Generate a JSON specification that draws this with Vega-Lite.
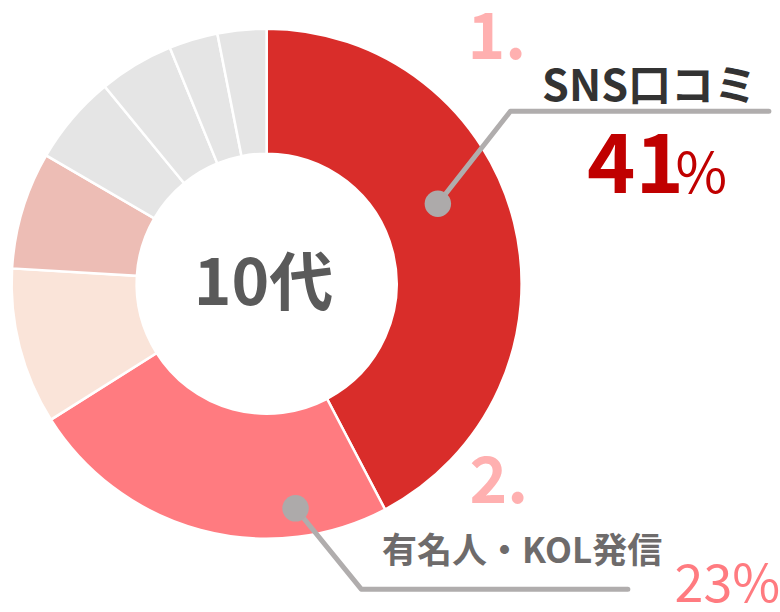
{
  "$schema": "https://vega.github.io/schema/vega-lite/v6.json",
  "width": 780,
  "height": 612,
  "autosize": {"type": "fit", "contains": "padding"},
  "padding": 0,
  "background": "white",
  "config": {"view": {"stroke": null}, "font": "Noto Sans CJK JP"},
  "datasets": {
    "shares": [
      {"item": "SNS口コミ", "value": 41, "rank": 1},
      {"item": "有名人・KOL発信", "value": 23, "rank": 2},
      {"item": "その他A", "value": 9.6, "rank": 3},
      {"item": "その他B", "value": 7.2, "rank": 4},
      {"item": "その他C", "value": 5.5, "rank": 5},
      {"item": "その他D", "value": 4.6, "rank": 6},
      {"item": "その他E", "value": 3.0, "rank": 7},
      {"item": "その他F", "value": 3.0, "rank": 8}
    ],
    "leaders": [
      {"g": 1, "s": 1, "x": 0.675, "y": 0.318},
      {"g": 1, "s": 2, "x": 0.961, "y": 0.686},
      {"g": 1, "s": 3, "x": 1.98, "y": 0.686},
      {"g": 2, "s": 1, "x": 0.114, "y": -0.894},
      {"g": 2, "s": 2, "x": 0.373, "y": -1.216},
      {"g": 2, "s": 3, "x": 1.424, "y": -1.216}
    ]
  },
  "layer": [
    {
      "data": {"name": "shares"},
      "mark": {"type": "arc", "innerRadius": 130, "outerRadius": 255, "stroke": "white", "strokeWidth": 2.5},
      "encoding": {
        "x": {"datum": 0, "type": "quantitative", "scale": {"domain": [-1.051, 2.008], "nice": false, "zero": false}, "axis": null},
        "y": {"datum": 0, "type": "quantitative", "scale": {"domain": [-1.271, 1.129], "nice": false, "zero": false}, "axis": null},
        "theta": {"field": "value", "type": "quantitative", "stack": true},
        "order": {"field": "rank", "type": "quantitative"},
        "color": {
          "field": "item",
          "type": "nominal",
          "scale": {
            "domain": ["SNS口コミ", "有名人・KOL発信", "その他A", "その他B", "その他C", "その他D", "その他E", "その他F"],
            "range": ["#D92D2A", "#FF7B80", "#FAE4D9", "#EDBDB5", "#E5E5E5", "#E5E5E5", "#E5E5E5", "#E5E5E5"]
          },
          "legend": null
        }
      }
    },
    {
      "data": {"name": "leaders"},
      "mark": {"type": "line", "color": "#B0ADAD", "strokeWidth": 5, "strokeCap": "round", "strokeJoin": "round"},
      "encoding": {
        "x": {"field": "x", "type": "quantitative"},
        "y": {"field": "y", "type": "quantitative"},
        "detail": {"field": "g"},
        "order": {"field": "s", "type": "quantitative"}
      }
    },
    {
      "data": {"name": "leaders"},
      "transform": [{"filter": "datum.s == 1"}],
      "mark": {"type": "point", "filled": true, "shape": "circle", "size": 700, "color": "#ADAAAA", "opacity": 1},
      "encoding": {
        "x": {"field": "x", "type": "quantitative"},
        "y": {"field": "y", "type": "quantitative"}
      }
    },
    {
      "data": {"values": [{"t": "1.", "x": 0.792, "y": 0.894}, {"t": "2.", "x": 0.8, "y": -0.871}]},
      "mark": {"type": "text", "align": "left", "baseline": "alphabetic", "fontSize": 64, "fontWeight": "bold", "color": "#FFB0B0"},
      "encoding": {
        "x": {"field": "x", "type": "quantitative"},
        "y": {"field": "y", "type": "quantitative"},
        "text": {"field": "t"}
      }
    },
    {
      "data": {"values": [{"t": "SNS口コミ", "x": 1.086, "y": 0.729}]},
      "mark": {"type": "text", "align": "left", "baseline": "alphabetic", "fontSize": 43, "fontWeight": "bold", "color": "#333333"},
      "encoding": {
        "x": {"field": "x", "type": "quantitative"},
        "y": {"field": "y", "type": "quantitative"},
        "text": {"field": "t"}
      }
    },
    {
      "data": {"values": [{"t": "41", "x": 1.263, "y": 0.36}]},
      "mark": {"type": "text", "align": "left", "baseline": "alphabetic", "fontSize": 82, "fontWeight": "bold", "color": "#C00000"},
      "encoding": {
        "x": {"field": "x", "type": "quantitative"},
        "y": {"field": "y", "type": "quantitative"},
        "text": {"field": "t"}
      }
    },
    {
      "data": {"values": [{"t": "%", "x": 1.612, "y": 0.36}]},
      "mark": {"type": "text", "align": "left", "baseline": "alphabetic", "fontSize": 56, "fontWeight": "normal", "color": "#C00000"},
      "encoding": {
        "x": {"field": "x", "type": "quantitative"},
        "y": {"field": "y", "type": "quantitative"},
        "text": {"field": "t"}
      }
    },
    {
      "data": {"values": [{"t": "有名人・KOL発信", "x": 0.455, "y": -1.11}]},
      "mark": {"type": "text", "align": "left", "baseline": "alphabetic", "fontSize": 35, "fontWeight": "bold", "color": "#6E6B6B"},
      "encoding": {
        "x": {"field": "x", "type": "quantitative"},
        "y": {"field": "y", "type": "quantitative"},
        "text": {"field": "t"}
      }
    },
    {
      "data": {"values": [{"t": "23%", "x": 1.608, "y": -1.267}]},
      "mark": {"type": "text", "align": "left", "baseline": "alphabetic", "fontSize": 52, "fontWeight": "normal", "color": "#FF7B80"},
      "encoding": {
        "x": {"field": "x", "type": "quantitative"},
        "y": {"field": "y", "type": "quantitative"},
        "text": {"field": "t"}
      }
    },
    {
      "data": {"values": [{"t": "10代", "x": -0.012, "y": -0.086}]},
      "mark": {"type": "text", "align": "center", "baseline": "alphabetic", "fontSize": 64, "fontWeight": "bold", "color": "#5A5A5A"},
      "encoding": {
        "x": {"field": "x", "type": "quantitative"},
        "y": {"field": "y", "type": "quantitative"},
        "text": {"field": "t"}
      }
    }
  ]
}
